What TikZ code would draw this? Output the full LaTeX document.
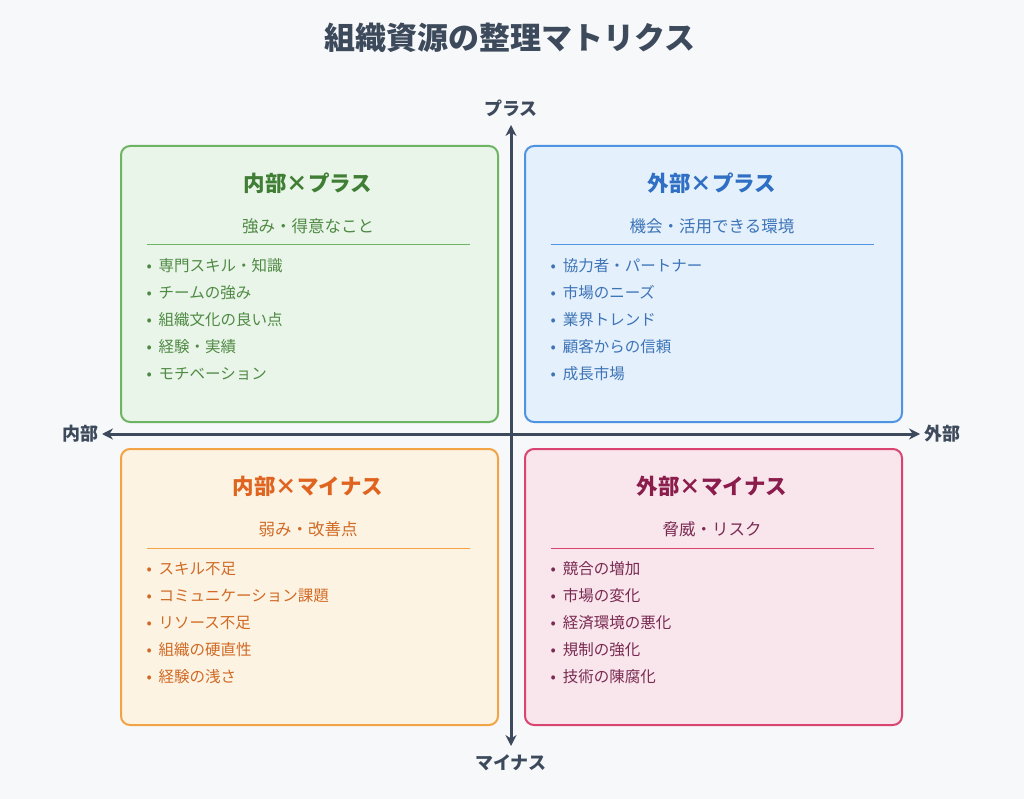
\documentclass[tikz,border=0pt]{standalone}
\usepackage{fontspec}
\setmainfont{Noto Sans CJK JP}
\usetikzlibrary{arrows.meta,calc}
\definecolor{bg}{HTML}{F7F8FA}
\definecolor{axis}{HTML}{3D4A5C}
\definecolor{gF}{HTML}{EAF5E9}\definecolor{gB}{HTML}{6DB563}\definecolor{gT}{HTML}{3F7E34}\definecolor{gX}{HTML}{4F8A44}
\definecolor{bF}{HTML}{E4F0FB}\definecolor{bB}{HTML}{4F94E3}\definecolor{bT}{HTML}{2F6FC4}\definecolor{bX}{HTML}{3D74B8}
\definecolor{oF}{HTML}{FDF3E3}\definecolor{oB}{HTML}{F2A345}\definecolor{oT}{HTML}{DF6420}\definecolor{oX}{HTML}{D06A25}
\definecolor{pF}{HTML}{F9E6EC}\definecolor{pB}{HTML}{D94470}\definecolor{pT}{HTML}{8A1D4C}\definecolor{pX}{HTML}{7A2A52}
\tikzset{
 quad/.style={rounded corners=9pt,line width=2pt},
 qtitle/.style={font=\fontsize{21.5}{24}\selectfont\bfseries},
 qsub/.style={font=\fontsize{16.5}{19}\selectfont},
 item/.style={font=\fontsize{15.5}{18}\selectfont,anchor=west},
 axlab/.style={font=\fontsize{18}{20}\selectfont\bfseries,text=axis}
}
\newcommand{\quadrant}[9]{%
 \node[quad,draw=#4,fill=#3,minimum width=377pt,minimum height=276pt,anchor=north west] (#9) at (#1,#2) {};
 \node[qtitle,text=#5] (#9t) at ($(#1,#2)+(188,38)$) {#7};
 \node[qsub,text=#6] (#9s) at ($(#1,#2)+(188,81)$) {#8};
 \draw[#4,line width=1pt] ($(#1,#2)+(27,100)$) -- ($(#1,#2)+(350,100)$);
}
\begin{document}
\begin{tikzpicture}[x=1pt,y=-1pt]
\fill[bg] (0,0) rectangle (1024,799);
\useasboundingbox (0,0) rectangle (1024,799);
\node[font=\fontsize{31}{34}\selectfont\bfseries,text=axis] (title) at (510,38) {組織資源の整理マトリクス};
\quadrant{120}{145}{gF}{gB}{gT}{gX}{内部×プラス}{強み・得意なこと}{q1}
\quadrant{524}{145}{bF}{bB}{bT}{bX}{外部×プラス}{機会・活用できる環境}{q2}
\quadrant{120}{448}{oF}{oB}{oT}{oX}{内部×マイナス}{弱み・改善点}{q3}
\quadrant{524}{448}{pF}{pB}{pT}{pX}{外部×マイナス}{脅威・リスク}{q4}
\foreach \t [count=\i] in {専門スキル・知識,チームの強み,組織文化の良い点,経験・実績,モチベーション}
  \node[item,text=gX] (g\i) at (143,{239+27*\i}) {•\ \ \t};
\foreach \t [count=\i] in {協力者・パートナー,市場のニーズ,業界トレンド,顧客からの信頼,成長市場}
  \node[item,text=bX] (b\i) at (547,{239+27*\i}) {•\ \ \t};
\foreach \t [count=\i] in {スキル不足,コミュニケーション課題,リソース不足,組織の硬直性,経験の浅さ}
  \node[item,text=oX] (o\i) at (143,{542+27*\i}) {•\ \ \t};
\foreach \t [count=\i] in {競合の増加,市場の変化,経済環境の悪化,規制の強化,技術の陳腐化}
  \node[item,text=pX] (p\i) at (547,{542+27*\i}) {•\ \ \t};
\coordinate (top) at (511,125);
\coordinate (bot) at (511,746);
\coordinate (lft) at (102,434);
\coordinate (rgt) at (920,434);
\draw[axis,line width=3pt,{Stealth[length=11pt,width=11pt]}-{Stealth[length=11pt,width=11pt]}] (bot) -- (top);
\draw[axis,line width=3pt,{Stealth[length=11pt,width=11pt]}-{Stealth[length=11pt,width=11pt]}] (lft) -- (rgt);
\node[axlab] (plus) at (511,108) {プラス};
\node[axlab] (minus) at (511,763) {マイナス};
\node[axlab] (inner) at (80,434) {内部};
\node[axlab] (outer) at (942,434) {外部};
\end{tikzpicture}
\end{document}
